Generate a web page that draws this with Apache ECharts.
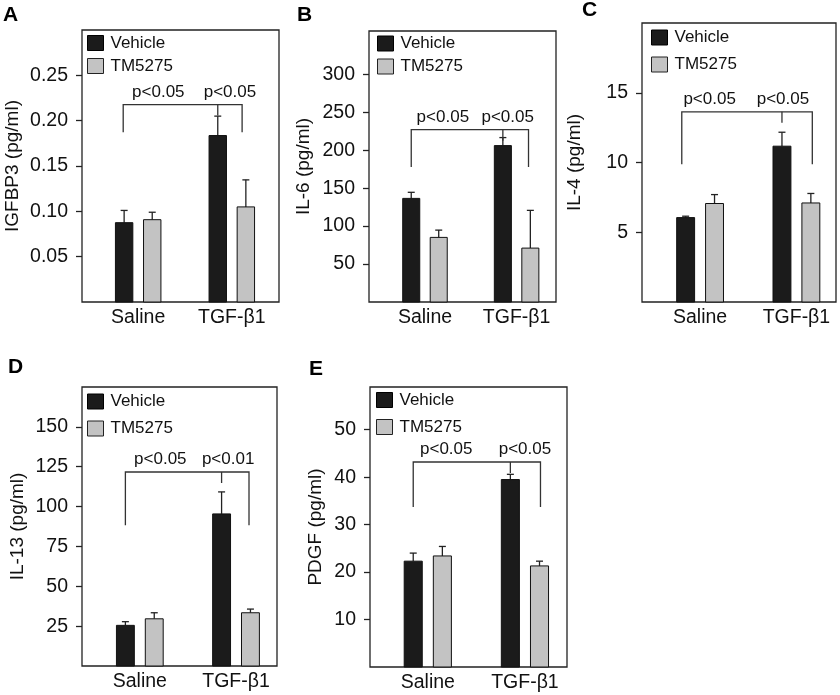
<!DOCTYPE html>
<html>
<head>
<meta charset="utf-8">
<script src="https://cdn.jsdelivr.net/npm/echarts@6/dist/echarts.min.js"></script>
<style>
html,body{margin:0;padding:0;background:#fff;}
#chart{width:840px;height:695px;}
</style>
</head>
<body>
<div id="chart"></div>
<script>
// ---------- DATA ----------
const categories = ['Saline', 'TGF-β1'];
const seriesNames = ['Vehicle', 'TM5275'];

// A: IGFBP3
const igfbp3Vehicle = [0.0875, 0.1836];
const igfbp3VehicleErr = [0.0135, 0.0214];
const igfbp3TM = [0.0908, 0.1049];
const igfbp3TMErr = [0.0082, 0.0298];
const igfbp3Ticks = [0.05, 0.10, 0.15, 0.20, 0.25];
const igfbp3PValues = ['p<0.05', 'p<0.05'];
const igfbp3Bracket = [0.2178, 0.1873];

// B: IL-6
const il6Vehicle = [136.5, 206];
const il6VehicleErr = [8, 10.6];
const il6TM = [85.1, 71];
const il6TMErr = [9.6, 49.7];
const il6Ticks = [50, 100, 150, 200, 250, 300];
const il6PValues = ['p<0.05', 'p<0.05'];
const il6Bracket = [227, 177.8];

// C: IL-4
const il4Vehicle = [6.05, 11.17];
const il4VehicleErr = [0.1, 1.0];
const il4TM = [7.06, 7.1];
const il4TMErr = [0.64, 0.68];
const il4Ticks = [5, 10, 15];
const il4PValues = ['p<0.05', 'p<0.05'];
const il4Bracket = [13.63, 9.88];

// D: IL-13
const il13Vehicle = [25.5, 95.4];
const il13VehicleErr = [2.3, 13.8];
const il13TM = [29.6, 33.4];
const il13TMErr = [3.8, 2.3];
const il13Ticks = [25, 50, 75, 100, 125, 150];
const il13PValues = ['p<0.05', 'p<0.01'];
const il13Bracket = [121.7, 88.3];

// E: PDGF
const pdgfVehicle = [22.3, 39.5];
const pdgfVehicleErr = [1.7, 1.1];
const pdgfTM = [23.4, 21.3];
const pdgfTMErr = [2.0, 1.0];
const pdgfTicks = [10, 20, 30, 40, 50];
const pdgfPValues = ['p<0.05', 'p<0.05'];
const pdgfBracket = [43.2, 33.7];

// ---------- LAYOUT ----------
const FONT = '"Liberation Sans", Arial, Helvetica, sans-serif';
const INK = '#111';
const LINE = '#222';
const VEH_FILL = '#1b1b1b';
const TM_FILL = '#c3c3c3';
const BAR_W = 0.186;
const BAR_OFF = 0.15;

const panels = [
  { letter: 'A', lx: 3, ly: 5, name: 'IGFBP3 (pg/ml)', veh: igfbp3Vehicle, vehErr: igfbp3VehicleErr, tm: igfbp3TM, tmErr: igfbp3TMErr,
    ticks: igfbp3Ticks, dec: 2, yMax: 0.30, p: igfbp3PValues, br: igfbp3Bracket,
    grid: { left: 82, top: 30, width: 197, height: 272 }, xMin: -0.600, xMax: 1.504, nameGap: 60,
    legend: { left: 87, top: 34.5, gap: 6 }, legs: [-0.16, 0.85, 1.11], pX: [0.215, -0.02] },
  { letter: 'B', lx: 297, ly: 5, name: 'IL-6 (pg/ml)', veh: il6Vehicle, vehErr: il6VehicleErr, tm: il6TM, tmErr: il6TMErr,
    ticks: il6Ticks, dec: 0, yMax: 357, p: il6PValues, br: il6Bracket,
    grid: { left: 369, top: 31, width: 187, height: 271 }, xMin: -0.611, xMax: 1.430, nameGap: 56,
    legend: { left: 377, top: 35, gap: 6 }, legs: [-0.15, 0.85, 1.13], pX: [0.195, -0.097] },
  { letter: 'C', lx: 582, ly: 0, name: 'IL-4 (pg/ml)', veh: il4Vehicle, vehErr: il4VehicleErr, tm: il4TM, tmErr: il4TMErr,
    ticks: il4Ticks, dec: 0, yMax: 20, p: il4PValues, br: il4Bracket,
    grid: { left: 642, top: 23, width: 194, height: 279 }, xMin: -0.603, xMax: 1.411, nameGap: 58,
    legend: { left: 651, top: 29, gap: 10 }, legs: [-0.19, 0.85, 1.165], pX: [0.099, -0.14] },
  { letter: 'D', lx: 8, ly: 357, name: 'IL-13 (pg/ml)', veh: il13Vehicle, vehErr: il13VehicleErr, tm: il13TM, tmErr: il13TMErr,
    ticks: il13Ticks, dec: 0, yMax: 175, p: il13PValues, br: il13Bracket,
    grid: { left: 82, top: 387, width: 195, height: 279 }, xMin: -0.601, xMax: 1.426, nameGap: 55,
    legend: { left: 87, top: 393, gap: 10 }, legs: [-0.15, 0.85, 1.135], pX: [0.213, -0.082] },
  { letter: 'E', lx: 309, ly: 359, name: 'PDGF (pg/ml)', veh: pdgfVehicle, vehErr: pdgfVehicleErr, tm: pdgfTM, tmErr: pdgfTMErr,
    ticks: pdgfTicks, dec: 0, yMax: 59, p: pdgfPValues, br: pdgfBracket,
    grid: { left: 370, top: 387, width: 197, height: 280 }, xMin: -0.595, xMax: 1.433, nameGap: 45,
    legend: { left: 376, top: 391.5, gap: 10 }, legs: [-0.15, 0.85, 1.16], pX: [0.19, 0.0] }
];

function barRender(off, fill) {
  return function (params, api) {
    const x = api.value(0) + off;
    const v = api.value(1), e = api.value(2);
    const base = api.coord([x, 0]);
    const top = api.coord([x, v]);
    const et = api.coord([x, v + e]);
    const w = api.size([BAR_W, 0])[0];
    const cap = 3.5;
    return {
      type: 'group',
      children: [
        { type: 'line', shape: { x1: top[0], y1: top[1], x2: et[0], y2: et[1] }, style: { stroke: LINE, lineWidth: 1.3 } },
        { type: 'line', shape: { x1: et[0] - cap, y1: et[1], x2: et[0] + cap, y2: et[1] }, style: { stroke: LINE, lineWidth: 1.3 } },
        { type: 'rect', shape: { x: top[0] - w / 2, y: top[1], width: w, height: base[1] - top[1] },
          style: { fill: fill, stroke: '#111', lineWidth: 1 } }
      ]
    };
  };
}

function bracketRender(pn) {
  return function (params, api) {
    const level = api.value(1), legEnd = api.value(2);
    const L = api.coord([pn.legs[0], legEnd]);
    const Lt = api.coord([pn.legs[0], level]);
    const Rt = api.coord([pn.legs[2], level]);
    const R = api.coord([pn.legs[2], legEnd]);
    const M = api.coord([pn.legs[1], level]);
    const t1 = api.coord([0 + pn.pX[0], level]);
    const t2 = api.coord([1 + pn.pX[1], level]);
    const st = { stroke: '#333', lineWidth: 1.3, fill: null };
    const txt = (pt, s) => ({ type: 'text', x: pt[0], y: pt[1] - 4,
      style: { text: s, fill: INK, fontSize: 17, fontFamily: FONT, align: 'center', verticalAlign: 'bottom' } });
    return {
      type: 'group',
      children: [
        { type: 'polyline', shape: { points: [L, Lt, Rt, R] }, style: st },
        { type: 'line', shape: { x1: M[0], y1: M[1], x2: M[0], y2: M[1] + 11 }, style: st },
        txt(t1, pn.p[0]),
        txt(t2, pn.p[1])
      ]
    };
  };
}

const grid = [], xAxis = [], yAxis = [], series = [], legend = [], graphic = [];
panels.forEach((pn, i) => {
  grid.push(Object.assign({ show: true, borderColor: LINE, borderWidth: 1.3, backgroundColor: 'transparent' }, pn.grid));
  xAxis.push({
    type: 'value', gridIndex: i, min: pn.xMin, max: pn.xMax,
    axisLine: { show: false, onZero: false }, axisTick: { show: false }, splitLine: { show: false },
    axisLabel: { customValues: [0, 1], formatter: v => categories[Math.round(v)] || '', margin: 6,
      color: INK, fontSize: 19.5, fontFamily: FONT }
  });
  yAxis.push({
    type: 'value', gridIndex: i, min: 0, max: pn.yMax,
    name: pn.name, nameLocation: 'middle', nameGap: pn.nameGap,
    nameTextStyle: { color: INK, fontSize: 19, fontFamily: FONT },
    axisLine: { show: false, onZero: false }, splitLine: { show: false },
    axisTick: { show: true, inside: false, length: 6, customValues: pn.ticks, lineStyle: { color: LINE, width: 1.3 } },
    axisLabel: { customValues: pn.ticks, margin: 14, color: INK, fontSize: 19.5, fontFamily: FONT,
      formatter: v => Number(v).toFixed(pn.dec) }
  });
  series.push({
    type: 'custom', name: seriesNames[0], xAxisIndex: i, yAxisIndex: i,
    itemStyle: { color: VEH_FILL, borderColor: '#000', borderWidth: 1 },
    encode: { x: 0, y: 1 },
    data: categories.map((c, k) => [k, pn.veh[k], pn.vehErr[k]]),
    renderItem: barRender(-BAR_OFF, VEH_FILL)
  });
  series.push({
    type: 'custom', name: seriesNames[1], xAxisIndex: i, yAxisIndex: i,
    itemStyle: { color: TM_FILL, borderColor: '#222', borderWidth: 1 },
    encode: { x: 0, y: 1 },
    data: categories.map((c, k) => [k, pn.tm[k], pn.tmErr[k]]),
    renderItem: barRender(BAR_OFF, TM_FILL)
  });
  series.push({
    type: 'custom', name: 'bracket' + i, xAxisIndex: i, yAxisIndex: i,
    encode: { x: 0, y: 1 }, silent: true,
    data: [[0.5, pn.br[0], pn.br[1]]],
    renderItem: bracketRender(pn)
  });
  legend.push({
    orient: 'vertical', left: pn.legend.left, top: pn.legend.top, itemGap: pn.legend.gap,
    itemWidth: 16, itemHeight: 15, padding: 0, selectedMode: false,
    textStyle: { color: INK, fontSize: 17, fontFamily: FONT, lineHeight: 17, padding: [0, 0, 0, 2] },
    data: [
      { name: seriesNames[0], icon: 'rect', itemStyle: { color: VEH_FILL, borderColor: '#000', borderWidth: 1 } },
      { name: seriesNames[1], icon: 'rect', itemStyle: { color: TM_FILL, borderColor: '#222', borderWidth: 1 } }
    ]
  });
  graphic.push({ type: 'text', left: pn.lx, top: pn.ly,
    style: { text: pn.letter, fill: '#000', fontSize: 21, fontWeight: 'bold', fontFamily: FONT } });
});

const chart = echarts.init(document.getElementById('chart'), null, { renderer: 'canvas' });
chart.setOption({
  animation: false,
  backgroundColor: '#fff',
  grid, xAxis, yAxis, series, legend, graphic
});
</script>
</body>
</html>
